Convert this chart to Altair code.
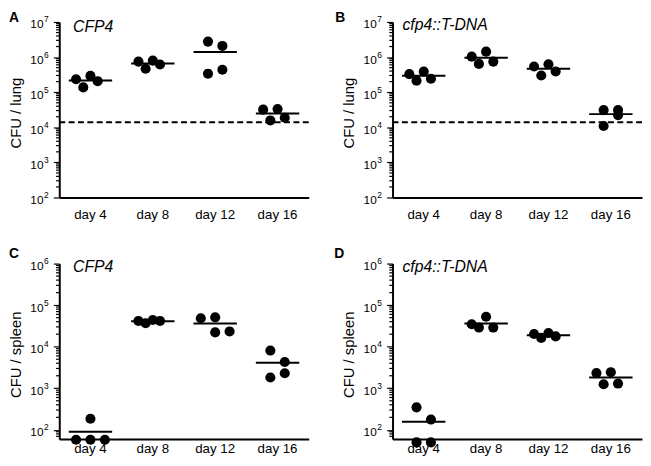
import altair as alt
import pandas as pd

# ---------------- data ----------------
days = ["day 4", "day 8", "day 12", "day 16"]

# CFU per mouse (4 mice per time point) and the column slot of each dot in the scatter
lung_cfp4 = [[2.34e5, 1.37e5, 2.91e5, 2.06e5],
             [7.45e5, 4.65e5, 7.94e5, 6.14e5],
             [2.76e6, 3.37e5, 2.08e6, 4.36e5],
             [3.18e4, 1.57e4, 3.33e4, 1.87e4]]
lung_cfp4_slot = [[-2, -1, 0, 1], [-2, -1, 0, 1], [-1, -1, 1, 1], [-2, -1, 0, 1]]

lung_tdna = [[3.27e5, 2.13e5, 3.89e5, 2.42e5],
             [1.03e6, 6.41e5, 1.43e6, 7.45e5],
             [5.38e5, 3.00e5, 6.25e5, 3.89e5],
             [3.09e4, 1.09e4, 3.09e4, 2.23e4]]
lung_tdna_slot = [[-2, -1, 0, 1], [-2, -1, 0, 1], [-2, -1, 0, 1], [-1, -1, 1, 1]]

spleen_cfp4 = [[58, 58, 58, 185],
               [4.17e4, 3.67e4, 4.40e4, 4.17e4],
               [4.83e4, 5.10e4, 2.21e4, 2.33e4],
               [8.08e3, 4.28e3, 1.82e3, 2.30e3]]
spleen_cfp4_slot = [[-2, 0, 2, 0], [-2, -1, 0, 1], [-2, 0, 0, 2], [-1, 1, -1, 1]]

spleen_tdna = [[348, 177, 50, 50],
               [3.48e4, 2.89e4, 5.25e4, 2.89e4],
               [2.02e4, 1.63e4, 2.13e4, 1.77e4],
               [2.32e3, 1.25e3, 2.44e3, 1.30e3]]
spleen_tdna_slot = [[-1, 1, -1, 1], [-2, -1, 0, 1], [-2, -1, 0, 1], [-2, -1, 0, 1]]

lung_limit = 1.4e4

lung_decades = [1e2, 1e3, 1e4, 1e5, 1e6, 1e7]
lung_exponents = ["2", "3", "4", "5", "6", "7"]
spleen_decades = [1e2, 1e3, 1e4, 1e5, 1e6]
spleen_exponents = ["2", "3", "4", "5", "6"]

# ---------------- style ----------------
FONT = "Liberation Sans"
W, H = 253, 178
SLOT_PX = 7.3
STEP = W / 4


def minor_ticks(lo_decade, hi_decade, extra_low=()):
    vals = list(extra_low)
    d = lo_decade
    while d < hi_decade:
        for m in range(2, 10):
            vals.append(m * d)
        d *= 10
    return vals


def panel(letter, gene, ytitle, values, slots, ymin, ymax, decades, exps,
          limit, gene_xy, letter_xy, label_pad, minors):
    rows = []
    for d, vals, sl in zip(days, values, slots):
        for v, s in zip(vals, sl):
            rows.append({"day": d, "cfu": v, "slot": s})
    df = pd.DataFrame(rows)

    yscale = alt.Scale(type="log", domain=[ymin, ymax], nice=False)
    xscale = alt.Scale(type="band", domain=days, paddingInner=0, paddingOuter=0)
    xoff = alt.Scale(domain=[-2, 2],
                     range=[STEP / 2 - 2 * SLOT_PX, STEP / 2 + 2 * SLOT_PX])

    xaxis = alt.Axis(title=None, ticks=False, labelAngle=0,
                     labelFontSize=13.5, labelPadding=label_pad, labelColor="black",
                     labelFont=FONT, domainColor="black", domainWidth=2, grid=False)
    yaxis = alt.Axis(values=decades, labels=False, ticks=True, tickSize=6,
                     tickWidth=1.2, tickColor="black", domainColor="black",
                     domainWidth=2, grid=False, title=ytitle, titleFont=FONT,
                     titleFontSize=15, titleFontWeight="normal", titleColor="black",
                     titleX=-44.5, titleY=H / 2 + 3, titleAngle=270,
                     titleAlign="center", titleBaseline="middle")

    def Y(field):
        return alt.Y(field, scale=yscale, axis=yaxis)

    def X(field):
        return alt.X(field, scale=xscale, sort=days, axis=xaxis)

    layers = []
    layers.append(
        alt.Chart(df).mark_circle(size=105, color="black", opacity=1).encode(
            x=X("day:N"),
            xOffset=alt.XOffset("slot:Q", scale=xoff),
            y=Y("cfu:Q"),
        )
    )
    if limit is not None:
        layers.append(
            alt.Chart(pd.DataFrame({"cfu": [limit]}))
            .mark_rule(strokeDash=[6, 3.5], strokeWidth=2, color="black")
            .encode(y=Y("cfu:Q"))
        )
    layers.append(
        alt.Chart(df).mark_tick(orient="horizontal", size=44, thickness=2,
                                color="black", opacity=1).encode(
            x=X("day:N"),
            y=alt.Y("mean(cfu):Q", scale=yscale, axis=yaxis),
        )
    )
    # minor ticks of the log axis
    layers.append(
        alt.Chart(pd.DataFrame({"cfu": minors})).mark_rule(strokeWidth=1.2, color="black")
        .encode(x=alt.value(-3.3), x2=alt.value(0), y=Y("cfu:Q"))
    )
    lab = pd.DataFrame({"cfu": decades, "e": exps})
    layers.append(
        alt.Chart(lab).mark_text(align="right", baseline="alphabetic", dy=6.5,
                                 fontSize=12, font=FONT, color="black").encode(
            x=alt.value(-16), y=Y("cfu:Q"), text=alt.value("10"))
    )
    layers.append(
        alt.Chart(lab).mark_text(align="left", baseline="alphabetic", dy=0.5,
                                 fontSize=8.5, font=FONT, color="black").encode(
            x=alt.value(-15.5), y=Y("cfu:Q"), text="e:N")
    )
    layers.append(
        alt.Chart(pd.DataFrame({"t": [gene]})).mark_text(
            align="left", baseline="alphabetic", fontSize=16, fontStyle="italic",
            font=FONT, color="black").encode(
            x=alt.value(gene_xy[0]), y=alt.value(gene_xy[1]), text="t:N")
    )
    layers.append(
        alt.Chart(pd.DataFrame({"t": [letter]})).mark_text(
            align="left", baseline="top", fontSize=14, fontWeight="bold",
            font=FONT, color="black").encode(
            x=alt.value(letter_xy[0]), y=alt.value(letter_xy[1]), text="t:N")
    )
    return alt.layer(*layers).properties(width=W, height=H)


lung_minor = minor_ticks(1e2, 1e7)
spleen_minor = minor_ticks(1e2, 1e6, extra_low=(70, 80, 90))

pA = panel("A", "CFP4", "CFU / lung", lung_cfp4, lung_cfp4_slot, 1e2, 1e7,
           lung_decades, lung_exponents, lung_limit, (14, 10), (-51, -10.5), 10, lung_minor)
pB = panel("B", "cfp4::T-DNA", "CFU / lung", lung_tdna, lung_tdna_slot, 1e2, 1e7,
           lung_decades, lung_exponents, lung_limit, (10, 8.5), (-58, -10.5), 10, lung_minor)
pC = panel("C", "CFP4", "CFU / spleen", spleen_cfp4, spleen_cfp4_slot, 60, 1e6,
           spleen_decades, spleen_exponents, None, (14, 9), (-51, -16.5), 3, spleen_minor)
pD = panel("D", "cfp4::T-DNA", "CFU / spleen", spleen_tdna, spleen_tdna_slot, 60, 1e6,
           spleen_decades, spleen_exponents, None, (10, 8.5), (-59, -16.5), 3, spleen_minor)

top = alt.hconcat(pA, pB, spacing=26)
bottom = alt.hconcat(pC, pD, spacing=26)
chart = (
    alt.vconcat(top, bottom, spacing=26)
    .properties(padding=0, background="white")
    .configure_view(stroke=None)
)

chart.save("out.html", embed_options={"renderer": "svg", "actions": False})
